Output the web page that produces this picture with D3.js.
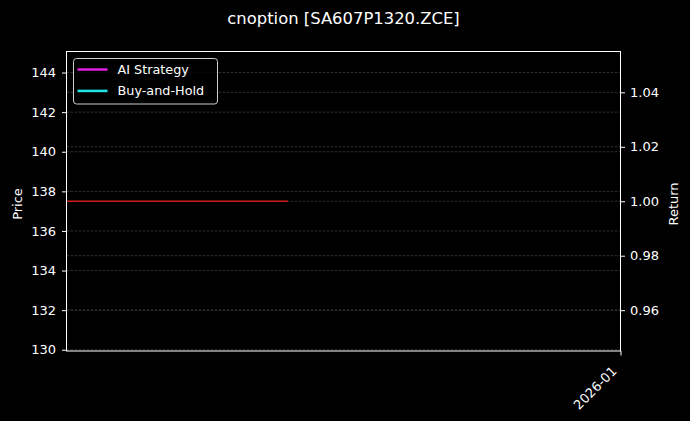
<!DOCTYPE html>
<html>
<head>
<meta charset="utf-8">
<script src="https://cdn.jsdelivr.net/npm/d3@7"></script>
<style>
  body { margin: 0; background: #000; }
  svg text { font-family: "DejaVu Sans", sans-serif; fill: #fff; }
</style>
</head>
<body>
<div class="d3Chart"></div>
<script>
// data
var dates = ["2025-12-22", "2025-12-26"];
var price = [137.5, 137.5];
var strategyReturn = [1.0];
var buyHoldReturn = [1.0];
var xDomain = ["2025-12-22", "2026-01-01"];
var xTicks = ["2026-01-01"];
var priceTicks = [130, 132, 134, 136, 138, 140, 142, 144];
var returnTicks = [0.96, 0.98, 1.0, 1.02, 1.04];
var seriesNames = ["AI Strategy", "Buy-and-Hold"];
var seriesColors = ["#e31ee3", "#1ee6e6"];
var titleText = "cnoption [SA607P1320.ZCE]";

var width = 690;
var height = 421;
var plotL = 66.5, plotR = 620.5, plotT = 51.5, plotB = 351;

var parse = d3.timeParse("%Y-%m-%d");

var svg = d3
  .select(".d3Chart")
  .append("svg")
  .attr("width", width)
  .attr("height", height)
  .style("background-color", "#000");

// scales
var xScale = d3.scaleTime().domain(xDomain.map(parse)).range([plotL, plotR]);
var yPrice = d3.scaleLinear().domain([129.9375, 145.0625]).range([plotB, plotT]);
var yReturn = d3.scaleLinear().domain([0.945, 1.055]).range([plotB, plotT]);

// grid
var grid = svg.append("g")
  .attr("stroke", "#3e3e3e")
  .attr("stroke-width", 0.8)
  .attr("stroke-dasharray", "2.5,1.5");
grid.selectAll(".gp").data(priceTicks).enter().append("line")
  .attr("x1", plotL).attr("x2", plotR)
  .attr("y1", (d) => yPrice(d)).attr("y2", (d) => yPrice(d));
grid.selectAll(".gr").data(returnTicks).enter().append("line")
  .attr("x1", plotL).attr("x2", plotR)
  .attr("y1", (d) => yReturn(d)).attr("y2", (d) => yReturn(d));

// price line
var priceData = dates.map((d, i) => ({ x: parse(d), y: price[i] }));
svg.append("path")
  .datum(priceData)
  .attr("fill", "none")
  .attr("stroke", "#d01818")
  .attr("stroke-width", 1.3)
  .attr("d", d3.line().x((d) => xScale(d.x)).y((d) => yPrice(d.y)));

// return lines (single point each)
[strategyReturn, buyHoldReturn].forEach(function (arr, k) {
  svg.append("path")
    .datum(arr.map((v, i) => ({ x: parse(dates[i]), y: v })))
    .attr("fill", "none")
    .attr("stroke", seriesColors[k])
    .attr("stroke-width", 2)
    .attr("d", d3.line().x((d) => xScale(d.x)).y((d) => yReturn(d.y)));
});

// axes
var yAxisL = d3.axisLeft(yPrice).tickValues(priceTicks).tickSize(4.5).tickPadding(6).tickSizeOuter(0)
  .tickFormat(d3.format("d"));
svg.append("g").attr("transform", `translate(${plotL},0)`).call(yAxisL);

var yAxisR = d3.axisRight(yReturn).tickValues(returnTicks).tickSize(4.5).tickPadding(5).tickSizeOuter(0)
  .tickFormat(d3.format(".2f"));
svg.append("g").attr("transform", `translate(${plotR},0)`).call(yAxisR);

var xAxis = d3.axisBottom(xScale).tickValues(xTicks.map(parse)).tickSize(4.5).tickSizeOuter(0)
  .tickFormat(d3.timeFormat("%Y-%m"));
var gx = svg.append("g").attr("transform", `translate(0,${plotB})`).call(xAxis);
gx.selectAll("text")
  .attr("text-anchor", "end")
  .attr("dy", null)
  .attr("y", null)
  .attr("transform", "translate(-3.5,21) rotate(-45)");

svg.selectAll(".tick text").style("font-size", "13px").style("fill", "#fff");
svg.selectAll(".tick line").style("stroke", "#fff");
svg.selectAll(".domain").remove();

// frame
svg.append("rect")
  .attr("x", plotL).attr("y", plotT)
  .attr("width", plotR - plotL).attr("height", plotB - plotT)
  .attr("fill", "none").attr("stroke", "#fff").attr("stroke-width", 1);

// labels
svg.append("text")
  .attr("x", (plotL + plotR) / 2).attr("y", 24)
  .attr("text-anchor", "middle")
  .style("font-size", "16.4px")
  .text(titleText);
svg.append("text")
  .attr("transform", "translate(21.5,204) rotate(-90)")
  .attr("text-anchor", "middle")
  .style("font-size", "13px")
  .text("Price");
svg.append("text")
  .attr("transform", "translate(678,204) rotate(-90)")
  .attr("text-anchor", "middle")
  .style("font-size", "13px")
  .text("Return");

// legend
var lg = svg.append("g").attr("transform", "translate(73.5,58.5)");
lg.append("rect")
  .attr("width", 144).attr("height", 45.5).attr("rx", 3)
  .attr("fill", "#000").attr("fill-opacity", 0.8)
  .attr("stroke", "#cccccc").attr("stroke-width", 1);
seriesNames.forEach(function (name, i) {
  var y = 11 + i * 21.4;
  lg.append("line")
    .attr("x1", 4).attr("x2", 34).attr("y1", y).attr("y2", y)
    .attr("stroke", seriesColors[i]).attr("stroke-width", 2.5);
  lg.append("text")
    .attr("x", 44).attr("y", y + 4.5)
    .style("font-size", "12.8px")
    .text(name);
});
</script>
</body>
</html>
